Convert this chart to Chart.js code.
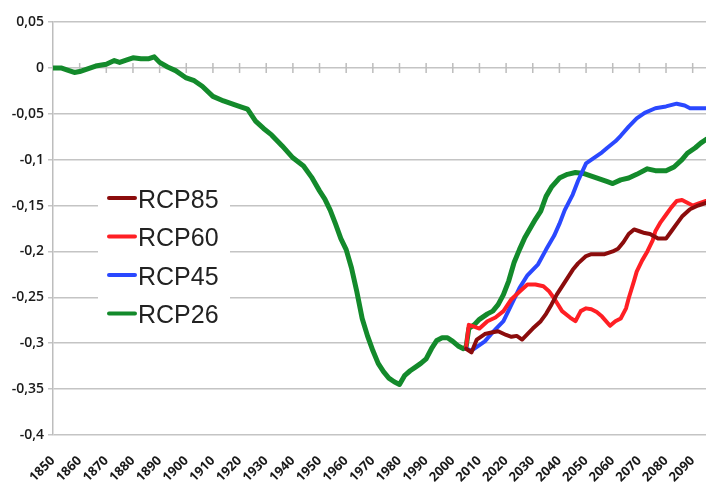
<!DOCTYPE html>
<html>
<head>
<meta charset="utf-8">
<script src="https://cdn.jsdelivr.net/npm/chart.js@4.4.1/dist/chart.umd.min.js"></script>
<style>
    body { margin: 0; background: #fff; }
    #wrap { width: 706px; height: 482px; }
</style>
</head>
<body>
<div id="wrap"><canvas id="myChart"></canvas></div>
<script>
'use strict';

// observed series, shared by all scenarios up to 2005
let histYears = [1850, 1853, 1856, 1858, 1860, 1863, 1866, 1870, 1873, 1875, 1878, 1880, 1883, 1886, 1888,
    1890, 1893, 1896, 1900, 1903, 1906, 1910, 1914, 1918, 1921, 1923, 1926, 1929, 1932, 1936, 1940, 1944,
    1947, 1950, 1952, 1954, 1956, 1958, 1960, 1962, 1964, 1966, 1968, 1970, 1972, 1974, 1976, 1978, 1980,
    1982, 1984, 1986, 1988, 1990, 1992, 1994, 1996, 1998, 2000, 2002, 2004, 2005];
let histValues = [0, 0, -0.003, -0.005, -0.004, -0.001, 0.002, 0.004, 0.008, 0.006, 0.009, 0.011, 0.010, 0.010, 0.012,
    0.006, 0.001, -0.003, -0.011, -0.014, -0.020, -0.031, -0.036, -0.040, -0.043, -0.045, -0.058, -0.066, -0.073, -0.085, -0.098, -0.107,
    -0.119, -0.134, -0.143, -0.155, -0.170, -0.186, -0.198, -0.218, -0.244, -0.273, -0.292, -0.308, -0.322, -0.331, -0.338, -0.342, -0.345,
    -0.335, -0.330, -0.326, -0.322, -0.317, -0.306, -0.297, -0.294, -0.294, -0.298, -0.303, -0.306, -0.304];

let rcp26Years = [2006, 2008, 2010, 2013, 2015, 2017, 2019, 2021, 2023, 2025, 2027, 2029, 2031, 2033, 2035, 2037,
    2040, 2043, 2046, 2049, 2052, 2055, 2058, 2060, 2063, 2066, 2069, 2073, 2076, 2080, 2083, 2086, 2088, 2091, 2093, 2095];
let rcp26Values = [-0.284, -0.280, -0.274, -0.268, -0.265, -0.258, -0.247, -0.232, -0.212, -0.198, -0.185, -0.175, -0.165, -0.156, -0.140, -0.130,
    -0.120, -0.116, -0.114, -0.115, -0.118, -0.121, -0.124, -0.126, -0.122, -0.120, -0.116, -0.110, -0.112, -0.112, -0.108, -0.100, -0.093, -0.087, -0.082, -0.078];

let rcp45Years = [2005, 2007, 2010, 2012, 2015, 2019, 2022, 2025, 2028, 2032, 2035, 2038, 2040, 2042, 2045, 2047,
    2050, 2053, 2056, 2058, 2061, 2063, 2066, 2069, 2072, 2076, 2080, 2084, 2087, 2089, 2092, 2095];
let rcp45Values = [-0.306, -0.308, -0.302, -0.298, -0.288, -0.276, -0.258, -0.240, -0.226, -0.214, -0.198, -0.183, -0.170, -0.155, -0.138, -0.123,
    -0.104, -0.098, -0.092, -0.087, -0.080, -0.074, -0.064, -0.055, -0.049, -0.044, -0.042, -0.039, -0.041, -0.044, -0.044, -0.044];

let rcp60Years = [2005, 2006, 2008, 2010, 2013, 2016, 2019, 2022, 2025, 2028, 2031, 2034, 2036, 2038, 2041, 2044,
    2046, 2048, 2050, 2052, 2054, 2056, 2059, 2061, 2063, 2065, 2066, 2068, 2069, 2071, 2073, 2075, 2076, 2078,
    2080, 2082, 2084, 2086, 2088, 2090, 2092, 2095];
let rcp60Values = [-0.304, -0.280, -0.282, -0.284, -0.276, -0.272, -0.265, -0.252, -0.244, -0.236, -0.236, -0.238, -0.243, -0.251, -0.265, -0.272,
    -0.276, -0.265, -0.262, -0.263, -0.266, -0.271, -0.281, -0.276, -0.273, -0.262, -0.251, -0.232, -0.222, -0.210, -0.200, -0.188, -0.178, -0.168,
    -0.160, -0.152, -0.145, -0.144, -0.147, -0.150, -0.148, -0.145];

let rcp85Years = [2005, 2007, 2009, 2012, 2015, 2017, 2020, 2022, 2024, 2026, 2028, 2030, 2033, 2035, 2037, 2039,
    2041, 2043, 2045, 2047, 2050, 2052, 2055, 2057, 2060, 2062, 2064, 2066, 2068, 2070, 2072, 2074, 2077, 2080,
    2082, 2084, 2086, 2089, 2092, 2095];
let rcp85Values = [-0.306, -0.310, -0.296, -0.290, -0.288, -0.287, -0.291, -0.293, -0.292, -0.296, -0.290, -0.284, -0.276, -0.268, -0.258, -0.247,
    -0.238, -0.229, -0.220, -0.213, -0.205, -0.203, -0.203, -0.203, -0.200, -0.197, -0.190, -0.181, -0.176, -0.178, -0.180, -0.181, -0.186, -0.186,
    -0.178, -0.170, -0.162, -0.154, -0.150, -0.147];

let seriesNames = ['RCP85', 'RCP60', 'RCP45', 'RCP26'];
let seriesColors = ['#8b0c0c', '#ff1f24', '#2a48ff', '#138a2b'];

function toPoints(years, values) {
    let pts = [];
    for (let i = 0; i < years.length; i++) {
        pts.push({ x: years[i], y: values[i] });
    }
    return pts;
}

let allData = [
    toPoints(rcp85Years, rcp85Values),
    toPoints(rcp60Years, rcp60Values),
    toPoints(rcp45Years, rcp45Values),
    toPoints(histYears, histValues).concat(toPoints(rcp26Years, rcp26Values))
];

let datasets = [];
for (let i = 0; i < seriesNames.length; i++) {
    datasets.push({
        label: seriesNames[i],
        data: allData[i],
        borderColor: seriesColors[i],
        backgroundColor: seriesColors[i],
        borderWidth: i === 3 ? 5 : 4,
        pointRadius: 0,
        tension: 0,
        borderJoinStyle: 'round',
        borderCapStyle: 'round'
    });
}

// small marks on the zero line, one per decade
let zeroTicks = {
    id: 'zeroTicks',
    beforeDatasetsDraw(chart) {
        let ctx = chart.ctx;
        let xs = chart.scales.x;
        let y0 = chart.scales.y.getPixelForValue(0);
        ctx.save();
        ctx.strokeStyle = '#bdbdbd';
        ctx.lineWidth = 1.5;
        ctx.beginPath();
        for (let yr = 1860; yr <= 2090; yr += 10) {
            let px = xs.getPixelForValue(yr);
            ctx.moveTo(px, y0 - 5);
            ctx.lineTo(px, y0 + 5);
        }
        ctx.stroke();
        ctx.restore();
    }
};

// legend box sitting inside the plot, left side
let innerLegend = {
    id: 'innerLegend',
    afterDraw(chart) {
        let ctx = chart.ctx;
        ctx.save();
        ctx.fillStyle = '#ffffff';
        ctx.fillRect(98, 178, 132, 154);
        ctx.font = "25px 'Liberation Sans', Arial, sans-serif";
        ctx.textBaseline = 'middle';
        ctx.textAlign = 'left';
        for (let i = 0; i < chart.data.datasets.length; i++) {
            let ds = chart.data.datasets[i];
            let cy = 200 + i * 38.5;
            ctx.strokeStyle = ds.borderColor;
            ctx.lineWidth = 4;
            ctx.lineCap = 'round';
            ctx.beginPath();
            ctx.moveTo(109, cy - 2);
            ctx.lineTo(135, cy - 2);
            ctx.stroke();
            ctx.fillStyle = '#222222';
            ctx.fillText(ds.label, 138, cy + 1);
        }
        ctx.restore();
    }
};

let ctx = document.getElementById('myChart').getContext('2d');
let myChart = new Chart(ctx, {
    type: 'line',
    data: { datasets: datasets },
    plugins: [zeroTicks, innerLegend],
    options: {
        responsive: true,
        maintainAspectRatio: false,
        animation: false,
        layout: { padding: { top: 22, right: 0, left: 0, bottom: 0 } },
        plugins: {
            legend: { display: false },
            tooltip: { enabled: false }
        },
        scales: {
            x: {
                type: 'linear',
                min: 1850,
                max: 2095,
                grid: { display: false },
                border: { display: false },
                afterFit: function (scale) {
                    scale.height = 47;
                    scale.paddingRight = 0;
                    scale.paddingLeft = 0;
                },
                ticks: {
                    stepSize: 10,
                    includeBounds: false,
                    autoSkip: false,
                    minRotation: 45,
                    maxRotation: 45,
                    padding: 10,
                    color: '#1a1a1a',
                    font: { family: "'Open Sans', sans-serif", size: 13, weight: 'bold' },
                    callback: function (v) { return String(v); }
                }
            },
            y: {
                min: -0.4,
                max: 0.05,
                afterFit: function (scale) { scale.width = 53; },
                grid: { color: '#c4c4c4', lineWidth: 1.5, tickLength: 5 },
                border: { color: '#bdbdbd', width: 1.5 },
                ticks: {
                    stepSize: 0.05,
                    padding: 4,
                    color: '#1a1a1a',
                    font: { family: "'Open Sans', sans-serif", size: 14, weight: '600' },
                    callback: function (v) {
                        return String(Number(v.toFixed(2))).replace('.', ',');
                    }
                }
            }
        }
    }
});
</script>
</body>
</html>
